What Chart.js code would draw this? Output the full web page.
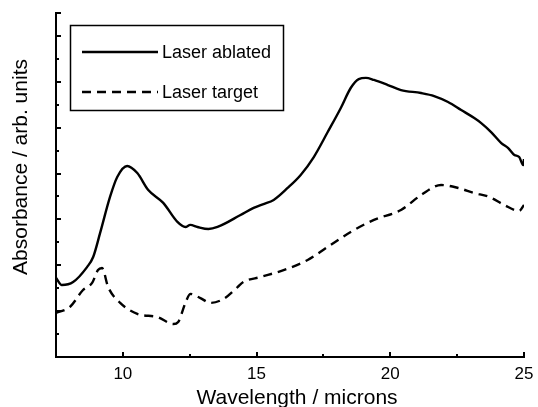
<!DOCTYPE html>
<html>
<head>
<meta charset="utf-8">
<script src="https://cdn.jsdelivr.net/npm/chart.js@4"></script>
<style>
  html, body { margin: 0; padding: 0; background: #fff; }
  #wrap { position: relative; width: 538px; height: 407px; }
</style>
</head>
<body>
<div id="wrap"><canvas id="absChart" width="538" height="407"></canvas></div>
<script>
  // wavelength (microns) and absorbance
  var ablatedX = [7.5, 7.72, 8.14, 8.66, 8.89, 9.15, 9.52, 9.79, 10.16, 10.54, 10.95, 11.51, 12.04, 12.34, 12.52, 12.79, 13.2, 13.54, 14.4, 14.89, 15.26, 15.64, 16.16, 16.65, 17.14, 17.66, 18.15, 18.52, 18.82, 19.09, 19.39, 19.91, 20.4, 21.15, 21.64, 22.16, 22.65, 23.14, 23.4, 23.77, 24.15, 24.41, 24.64, 24.82, 24.97, 25.0];
  var ablatedY = [3.45, 3.14, 3.27, 3.92, 4.36, 5.41, 6.98, 7.85, 8.33, 8.02, 7.28, 6.72, 5.89, 5.67, 5.76, 5.67, 5.58, 5.67, 6.19, 6.5, 6.67, 6.85, 7.37, 7.94, 8.72, 9.81, 10.86, 11.73, 12.12, 12.17, 12.08, 11.86, 11.64, 11.51, 11.38, 11.12, 10.77, 10.42, 10.2, 9.81, 9.33, 9.11, 8.81, 8.72, 8.37, 8.63];

  var targetX = [7.5, 8.02, 8.51, 8.85, 9.07, 9.22, 9.45, 9.9, 10.54, 11.29, 11.89, 12.07, 12.34, 12.52, 12.9, 13.27, 13.76, 14.29, 14.51, 15.15, 16.01, 16.91, 17.66, 18.52, 19.39, 20.4, 21.15, 21.9, 22.54, 23.14, 23.7, 24.26, 24.82, 25.0];
  var targetY = [1.92, 2.18, 2.92, 3.23, 3.79, 3.88, 3.05, 2.36, 1.88, 1.74, 1.44, 1.53, 2.36, 2.75, 2.57, 2.36, 2.53, 3.05, 3.27, 3.49, 3.79, 4.23, 4.8, 5.45, 5.98, 6.41, 7.06, 7.5, 7.37, 7.15, 6.98, 6.63, 6.37, 6.63];

  var seriesLabels = ['Laser ablated', 'Laser target'];
  var xTitle = 'Wavelength / microns';
  var yTitle = 'Absorbance / arb. units';

  var FONT = '"Liberation Sans", Arial, Helvetica, sans-serif';

  function toPoints(xs, ys) {
    return xs.map(function (x, i) { return { x: x, y: ys[i] }; });
  }

  // ticks pointing into the plot, long on majors, short on minors
  var innerTicks = {
    id: 'innerTicks',
    afterDraw: function (chart) {
      var ctx = chart.ctx, area = chart.chartArea;
      var xs = chart.scales.x, ys = chart.scales.y;
      ctx.save();
      ctx.strokeStyle = '#000';
      ctx.lineWidth = 2;
      xs.ticks.forEach(function (t) {
        if (t.value <= xs.min) return;
        var px = Math.round(xs.getPixelForValue(t.value));
        var len = (t.value % 5 === 0) ? 5 : 3;
        ctx.beginPath();
        ctx.moveTo(px, area.bottom);
        ctx.lineTo(px, area.bottom - len);
        ctx.stroke();
      });
      ys.ticks.forEach(function (t) {
        if (t.value <= ys.min) return;
        var py = Math.round(ys.getPixelForValue(t.value));
        var len = (t.value % 2 === 0 || t.value === ys.max) ? 5 : 3;
        ctx.beginPath();
        ctx.moveTo(area.left, py);
        ctx.lineTo(area.left + len, py);
        ctx.stroke();
      });
      ctx.restore();
    }
  };

  // axis titles placed where the figure has them
  var axisTitles = {
    id: 'axisTitles',
    afterDraw: function (chart) {
      var ctx = chart.ctx;
      ctx.save();
      ctx.fillStyle = '#000';
      ctx.font = '21px ' + FONT;
      ctx.textAlign = 'center';
      ctx.textBaseline = 'alphabetic';
      ctx.fillText(xTitle, 297, 404);
      ctx.translate(27, 167);
      ctx.rotate(-Math.PI / 2);
      ctx.fillText(yTitle, 0, 0);
      ctx.restore();
    }
  };

  // boxed legend inside the plot, upper left
  var boxLegend = {
    id: 'boxLegend',
    afterDraw: function (chart) {
      var ctx = chart.ctx;
      var box = { x: 70.5, y: 25.5, w: 213, h: 85 };
      ctx.save();
      ctx.fillStyle = '#fff';
      ctx.fillRect(box.x, box.y, box.w, box.h);
      ctx.strokeStyle = '#000';
      ctx.lineWidth = 1.5;
      ctx.strokeRect(box.x, box.y, box.w, box.h);
      ctx.font = '18px ' + FONT;
      ctx.textAlign = 'left';
      ctx.textBaseline = 'alphabetic';
      chart.data.datasets.forEach(function (ds, i) {
        var ly = 52 + i * 40;
        ctx.strokeStyle = ds.borderColor;
        ctx.lineWidth = ds.borderWidth;
        ctx.setLineDash(ds.borderDash || []);
        ctx.beginPath();
        ctx.moveTo(82, ly);
        ctx.lineTo(158, ly);
        ctx.stroke();
        ctx.setLineDash([]);
        ctx.fillStyle = '#000';
        ctx.fillText(ds.label, 162, ly + 6);
      });
      ctx.restore();
    }
  };

  new Chart(document.getElementById('absChart'), {
    type: 'line',
    data: {
      datasets: [
        { label: seriesLabels[0], data: toPoints(ablatedX, ablatedY), borderColor: '#000', borderWidth: 2.4, pointRadius: 0, cubicInterpolationMode: 'monotone', fill: false },
        { label: seriesLabels[1], data: toPoints(targetX, targetY), borderColor: '#000', borderWidth: 2.4, borderDash: [9, 6], pointRadius: 0, cubicInterpolationMode: 'monotone', fill: false }
      ]
    },
    options: {
      responsive: false,
      animation: false,
      layout: { padding: { left: 0, right: 14, top: 13, bottom: 0 } },
      plugins: { legend: { display: false }, tooltip: { enabled: false } },
      scales: {
        x: {
          type: 'linear', min: 7.5, max: 25,
          afterFit: function (s) { s.height = 50; s.paddingLeft = 0; s.paddingRight = 0; },
          grid: { display: false, drawTicks: false },
          border: { display: true, color: '#000', width: 2 },
          ticks: {
            stepSize: 2.5, color: '#000', padding: 7, maxRotation: 0,
            font: { family: FONT, size: 17 },
            callback: function (v) { return v % 5 === 0 ? String(v) : ''; }
          }
        },
        y: {
          min: 0, max: 15,
          afterFit: function (s) { s.width = 56; },
          grid: { display: false, drawTicks: false },
          border: { display: true, color: '#000', width: 2 },
          ticks: { stepSize: 1, display: false }
        }
      }
    },
    plugins: [innerTicks, axisTitles, boxLegend]
  });
</script>
</body>
</html>
